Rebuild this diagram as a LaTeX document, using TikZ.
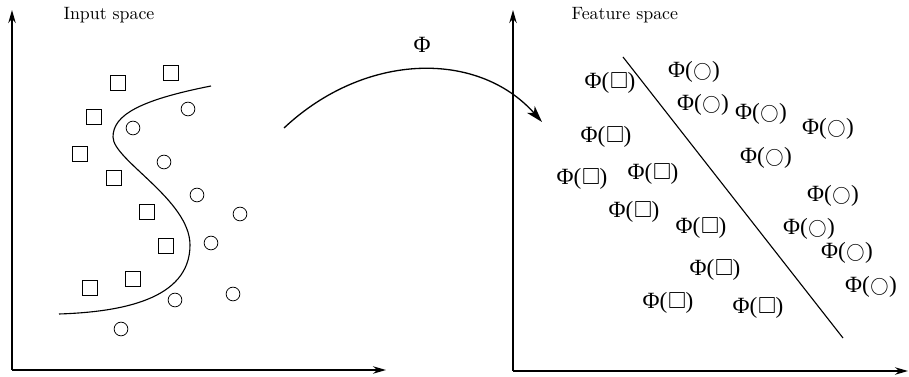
\documentclass[tikz,border=0pt]{standalone}
\usepackage{amsmath}
\usepackage{amssymb}
\usepackage{graphicx}
\usepackage{fontspec}
\usepackage{tikz}
\usetikzlibrary{arrows.meta,positioning,calc}
\newfontfamily\lblfont{Liberation Serif}
\newcommand{\phisq}{Φ(\kern0.3pt\raisebox{0.2pt}{$\square$}\kern-0.3pt)}
\newcommand{\phici}{Φ(\kern0.3pt\raisebox{0.5pt}{\scalebox{0.82}{$\bigcirc$}}\kern0.3pt)}

\begin{document}
\begin{tikzpicture}[x=0.0189cm, y=-0.0189cm,
  sq/.style={draw, thin, rectangle, minimum size=0.27cm, inner sep=0pt},
  circ/.style={draw, thin, circle, minimum size=0.26cm, inner sep=0pt},
  img/.style={inner sep=0pt, font=\lblfont\fontsize{12.5}{14}\selectfont},
  ttl/.style={anchor=west, font=\fontsize{9.6}{11}\selectfont},
  axis/.style={-{Stealth[length=7pt, width=4pt]}, line width=0.9pt},
  arr/.style={-{Stealth[length=9pt, width=5.5pt, inset=2.5pt]}, line width=0.7pt}
]
  \useasboundingbox (0,0) rectangle (909,377);

  % input space
  \coordinate (o1) at (12,370);
  \coordinate (y1) at (12,10);
  \coordinate (x1) at (386,370);
  \draw[axis] (o1) -- (y1);
  \draw[axis] (o1) -- (x1);
  \node[ttl] (ttl1) at (57,15) {Input space};

  \node[sq] (s1) at (118,83) {};
  \node[sq] (s2) at (171,73) {};
  \node[sq] (s3) at (94,117) {};
  \node[sq] (s4) at (80,154) {};
  \node[sq] (s5) at (114,178) {};
  \node[sq] (s6) at (147,212) {};
  \node[sq] (s7) at (166,246) {};
  \node[sq] (s8) at (133,279) {};
  \node[sq] (s9) at (90,288) {};

  \node[circ] (c1) at (188,109) {};
  \node[circ] (c2) at (133,128) {};
  \node[circ] (c3) at (164,162) {};
  \node[circ] (c4) at (197,195) {};
  \node[circ] (c5) at (240,214) {};
  \node[circ] (c6) at (211,243) {};
  \node[circ] (c7) at (175,300) {};
  \node[circ] (c8) at (233,294) {};
  \node[circ] (c9) at (121,329) {};

  \coordinate (b1) at (211,86);
  \coordinate (b2) at (113,137);
  \coordinate (b3) at (190,245);
  \coordinate (b4) at (59,314);
  \draw[line width=0.6pt] (b1) .. controls (140,100) and (113,115) .. (b2)
    .. controls (113,160) and (190,200) .. (b3)
    .. controls (190,300) and (120,312) .. (b4);

  % the map
  \coordinate (m1) at (284,128);
  \coordinate (m2) at (542,122);
  \draw[arr] (m1) .. controls (365,52) and (478,50) .. (m2);
  \node[img] (phi) at (422,45) {Φ};

  % feature space
  \coordinate (o2) at (513,371);
  \coordinate (y2) at (513,10);
  \coordinate (x2) at (908,371);
  \draw[axis] (o2) -- (y2);
  \draw[axis] (o2) -- (x2);
  \node[ttl] (ttl2) at (565,15) {Feature space};

  \coordinate (h1) at (623,57);
  \coordinate (h2) at (843,338);
  \draw[line width=0.6pt] (h1) -- (h2);

  \node[img] (fs1) at (610,83) {\phisq};
  \node[img] (fs2) at (606,137) {\phisq};
  \node[img] (fs3) at (582,179) {\phisq};
  \node[img] (fs4) at (653,174) {\phisq};
  \node[img] (fs5) at (634,212) {\phisq};
  \node[img] (fs6) at (701,228) {\phisq};
  \node[img] (fs7) at (715,270) {\phisq};
  \node[img] (fs8) at (668,303) {\phisq};
  \node[img] (fs9) at (758,308) {\phisq};

  \node[img] (fc1) at (694,72) {\phici};
  \node[img] (fc2) at (703,105) {\phici};
  \node[img] (fc3) at (761,114) {\phici};
  \node[img] (fc4) at (828,129) {\phici};
  \node[img] (fc5) at (766,158) {\phici};
  \node[img] (fc6) at (833,196) {\phici};
  \node[img] (fc7) at (809,229) {\phici};
  \node[img] (fc8) at (847,253) {\phici};
  \node[img] (fc9) at (871,287) {\phici};
\end{tikzpicture}
\end{document}
